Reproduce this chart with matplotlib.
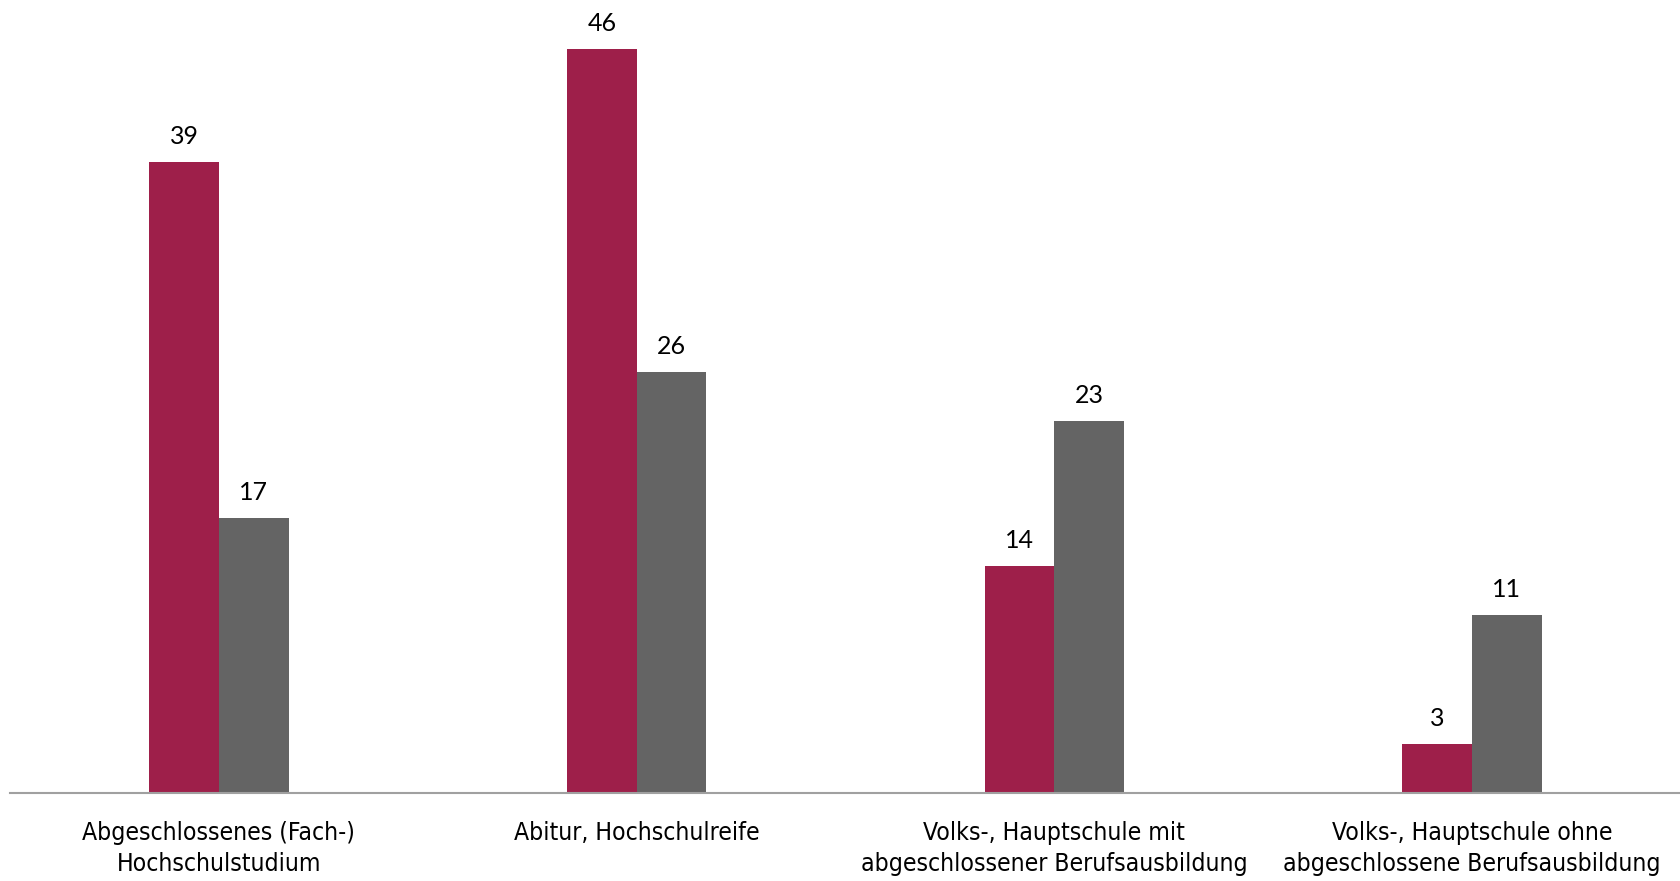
import matplotlib.pyplot as plt
from matplotlib import font_manager as fm
import numpy as np

categories = ["Abgeschlossenes (Fach-)\nHochschulstudium",
              "Abitur, Hochschulreife",
              "Volks-, Hauptschule mit\nabgeschlossener Berufsausbildung",
              "Volks-, Hauptschule ohne\nabgeschlossene Berufsausbildung"]
series_a = [39, 46, 14, 3]
series_b = [17, 26, 23, 11]

red = "#9E1F4A"
gray = "#646464"

# pick a condensed regular font if one is installed
cond = None
for f in fm.fontManager.ttflist:
    n = f.name.lower()
    fn = f.fname.lower()
    if f.style != "normal":
        continue
    if f.weight not in (400, "normal", "regular", "book"):
        continue
    if ("narrow" in n or "condensed" in n or "condensed" in fn or "narrow" in fn
            or f.stretch in ("condensed", "semi-condensed", 75, 87.5)):
        if "bold" in fn or "oblique" in fn or "italic" in fn or "mono" in fn or "light" in fn \
                or "semi" in fn or "extra" in fn or "medium" in fn or "thin" in fn or "black" in fn:
            continue
        cond = f.fname
        if "liberation" in fn or "dejavu" in fn:
            break
if cond:
    lab_fp = fm.FontProperties(fname=cond, size=17.7)
else:
    lab_fp = fm.FontProperties(family="Roboto", size=17)

fig = plt.figure(figsize=(16.81, 8.81), dpi=100)
ax = fig.add_axes([10/1681, 1 - 793/881, 1 - 10/1681, 793/881])

x = np.arange(len(categories))
w = 1/6
bars_a = ax.bar(x - w/2, series_a, width=w, color=red, edgecolor="none")
bars_b = ax.bar(x + w/2, series_b, width=w, color=gray, edgecolor="none")

ax.set_xlim(-0.5, len(categories) - 0.5)
ax.set_ylim(0, 49)

for bars, vals in ((bars_a, series_a), (bars_b, series_b)):
    for b, v in zip(bars, vals):
        ax.annotate(str(v), (b.get_x() + b.get_width()/2, v),
                    xytext=(0, 14), textcoords="offset pixels",
                    ha="center", va="bottom", fontsize=18,
                    family=["Lato", "DejaVu Sans"], color="black")

for s in ("top", "right", "left"):
    ax.spines[s].set_visible(False)
ax.spines["bottom"].set_color("#A0A0A0")
ax.spines["bottom"].set_linewidth(1.5)
ax.set_yticks([])
ax.set_xticks(x)
ax.set_xticklabels(categories, fontproperties=lab_fp, linespacing=1.4)
ax.tick_params(axis="x", length=0, pad=20)

fig.savefig("out.png", dpi=100)
